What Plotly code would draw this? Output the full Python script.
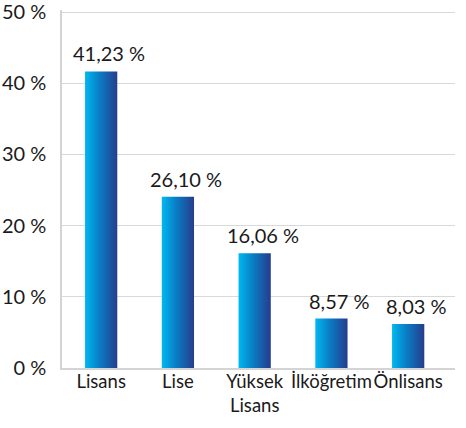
import plotly.graph_objects as go

categories = ["Lisans", "Lise", "Yüksek<br>Lisans", "İlköğretim", "Önlisans"]
bar_values = [41.66, 24.06, 16.14, 6.95, 6.17]
value_labels = ["41,23 %", "26,10 %", "16,06 %", "8,57 %", "8,03 %"]
y_ticks = [0, 10, 20, 30, 40, 50]
y_tick_text = ["0 %", "10 %", "20 %", "30 %", "40 %", "50 %"]

FONT = "Lato"
FS = 20
TXT = "#1a1a1a"
BAR_W = 0.42
GRAD = [[0, "#00B8F0"], [0.45, "#0A7CC4"], [1, "#263C8C"]]

fig = go.Figure()
for i, v in enumerate(bar_values):
    x0, x1 = i - BAR_W / 2, i + BAR_W / 2
    fig.add_trace(go.Scatter(
        x=[x0, x1, x1, x0, x0], y=[0, 0, v, v, 0],
        mode="lines", fill="toself", line=dict(width=0),
        fillgradient=dict(type="horizontal", colorscale=GRAD),
        hoverinfo="skip", showlegend=False,
    ))
    fig.add_annotation(x=i, y=v, text=value_labels[i], showarrow=False,
                       yanchor="bottom", yshift=4, xshift=8,
                       font=dict(family=FONT, size=FS, color=TXT))

fig.update_layout(
    width=466, height=428,
    margin=dict(l=62, r=11, t=10, b=60),
    plot_bgcolor="white", paper_bgcolor="white",
    font=dict(family=FONT, size=FS, color=TXT),
    showlegend=False,
)
fig.update_xaxes(
    range=[-0.51, 4.61], tickmode="array", tickvals=list(range(len(categories))),
    ticktext=categories, tickangle=0, showgrid=False, zeroline=False,
    showline=True, linecolor="#D4D4D4", linewidth=1.5, ticks="",
    ticklabelstandoff=-4, automargin=False, ticklabeloverflow="allow",
    tickfont=dict(size=18.5),
)
fig.update_yaxes(
    range=[0, 50.3], tickmode="array", tickvals=y_ticks, ticktext=y_tick_text,
    showgrid=True, gridcolor="#D9D9D9", gridwidth=1, zeroline=False,
    showline=True, linecolor="#D4D4D4", linewidth=1.5, ticks="",
    ticklabelstandoff=10, automargin=False, ticklabeloverflow="allow",
)
fig.write_html("out.html", post_script="document.body.style.margin='0';",
               config={"displayModeBar": False})
